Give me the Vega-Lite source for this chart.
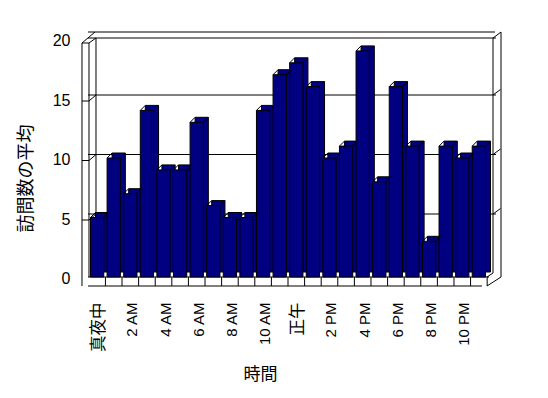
{
  "$schema": "https://vega.github.io/schema/vega-lite/v6.json",
  "autosize": {"type": "none"},
  "padding": {"left": 88, "top": 39, "right": 60, "bottom": 121},
  "width": 400,
  "height": 238,
  "background": "white",
  "config": {
    "view": {"stroke": null},
    "rule": {"color": "black", "strokeWidth": 1},
    "axisX": {"labelAngle": -90, "offset": 9, "domain": false, "ticks": false, "grid": false,
      "labelPadding": 16, "labelOffset": 2, "labelColor": "black", "labelOverlap": false, "labelBound": false,
      "titleFont": "Noto Sans CJK JP", "titleFontSize": 17, "titleFontWeight": "normal",
      "titleColor": "black", "titleX": 172, "titleY": 80, "titleBaseline": "top"},
    "axisY": {"offset": 6, "domain": false, "ticks": false, "grid": false,
      "labelPadding": 12, "labelOffset": 1.5, "labelFontSize": 16, "labelFont": "Liberation Sans",
      "labelColor": "black",
      "titleFont": "Noto Sans CJK JP", "titleFontSize": 18, "titleFontWeight": "normal",
      "titleColor": "black", "titlePadding": 17, "titleY": 139}
  },
  "datasets": {
    "bars": [
      {"hour": "真夜中", "visits": 5}, {"hour": "1 AM", "visits": 10}, {"hour": "2 AM", "visits": 7},
      {"hour": "3 AM", "visits": 14}, {"hour": "4 AM", "visits": 9}, {"hour": "5 AM", "visits": 9},
      {"hour": "6 AM", "visits": 13}, {"hour": "7 AM", "visits": 6}, {"hour": "8 AM", "visits": 5},
      {"hour": "9 AM", "visits": 5}, {"hour": "10 AM", "visits": 14}, {"hour": "11 AM", "visits": 17},
      {"hour": "正午", "visits": 18}, {"hour": "1 PM", "visits": 16}, {"hour": "2 PM", "visits": 10},
      {"hour": "3 PM", "visits": 11}, {"hour": "4 PM", "visits": 19}, {"hour": "5 PM", "visits": 8},
      {"hour": "6 PM", "visits": 16}, {"hour": "7 PM", "visits": 11}, {"hour": "8 PM", "visits": 3},
      {"hour": "9 PM", "visits": 11}, {"hour": "10 PM", "visits": 10}, {"hour": "11 PM", "visits": 11}
    ],
    "grid": [
      {"g": 5, "left": "真夜中", "right": "11 PM"},
      {"g": 10, "left": "真夜中", "right": "11 PM"},
      {"g": 15, "left": "真夜中", "right": "11 PM"}
    ],
    "edge": [{"left": "真夜中", "right": "11 PM"}]
  },
  "layer": [
    {
      "data": {"name": "bars"},
      "mark": {"type": "bar", "color": "#000080", "stroke": "black", "strokeWidth": 1, "opacity": 0},
      "encoding": {
        "x": {
          "field": "hour", "type": "nominal",
          "scale": {
            "domain": ["真夜中", "1 AM", "2 AM", "3 AM", "4 AM", "5 AM", "6 AM", "7 AM", "8 AM", "9 AM", "10 AM", "11 AM", "正午", "1 PM", "2 PM", "3 PM", "4 PM", "5 PM", "6 PM", "7 PM", "8 PM", "9 PM", "10 PM", "11 PM"],
            "paddingInner": 0.2, "paddingOuter": 0.15
          },
          "axis": {
            "values": ["真夜中", "2 AM", "4 AM", "6 AM", "8 AM", "10 AM", "正午", "2 PM", "4 PM", "6 PM", "8 PM", "10 PM"],
            "labelFontSize": {"condition": {"test": "datum.value === '真夜中' || datum.value === '正午'", "value": 16.5}, "value": 15},
            "labelFont": {"condition": {"test": "datum.value === '真夜中' || datum.value === '正午'", "value": "Noto Sans CJK JP"}, "value": "Liberation Sans"},
            "title": "時間"
          }
        },
        "y": {
          "field": "visits", "type": "quantitative",
          "scale": {"domain": [0, 20], "nice": false},
          "axis": {"values": [0, 5, 10, 15, 20], "title": "訪問数の平均"}
        }
      }
    },
    {
      "data": {"name": "grid"},
      "mark": {"type": "rule", "xOffset": 8, "x2Offset": 5, "yOffset": -3.5},
      "encoding": {"y": {"field": "g", "type": "quantitative"}}
    },
    {
      "data": {"name": "edge"},
      "mark": {"type": "rule", "xOffset": 8, "x2Offset": 5, "yOffset": -1},
      "encoding": {"y": {"datum": 20, "type": "quantitative"}}
    },
    {
      "data": {"name": "edge"},
      "mark": {"type": "rule", "xOffset": 7, "x2Offset": 13, "yOffset": -7},
      "encoding": {"y": {"datum": 20, "type": "quantitative"}}
    },
    {
      "data": {"name": "edge"},
      "mark": {"type": "rule", "xOffset": 7.5, "yOffset": -1, "y2Offset": -4},
      "encoding": {
        "x": {"field": "right", "type": "nominal", "bandPosition": 1},
        "y": {"datum": 20, "type": "quantitative"},
        "y2": {"datum": 0}
      }
    },
    {
      "data": {"name": "edge"},
      "mark": {"type": "rule", "xOffset": 15.5, "yOffset": -7, "y2Offset": 0},
      "encoding": {
        "x": {"field": "right", "type": "nominal", "bandPosition": 1},
        "y": {"datum": 20, "type": "quantitative"},
        "y2": {"datum": 0}
      }
    },
    {
      "data": {"name": "edge"},
      "mark": {"type": "rule", "xOffset": 7.5, "x2Offset": 15.5, "yOffset": -1, "y2Offset": -7},
      "encoding": {
        "x": {"field": "right", "type": "nominal", "bandPosition": 1},
        "x2": {"field": "right", "bandPosition": 1},
        "y": {"datum": 20, "type": "quantitative"},
        "y2": {"datum": 20}
      }
    },
    {
      "data": {"name": "grid"},
      "mark": {"type": "rule", "xOffset": 7.5, "x2Offset": 15, "yOffset": -3.5, "y2Offset": -9},
      "encoding": {
        "x": {"field": "right", "type": "nominal", "bandPosition": 1},
        "x2": {"field": "right", "bandPosition": 1},
        "y": {"field": "g", "type": "quantitative"},
        "y2": {"field": "g"}
      }
    },
    {
      "data": {"name": "edge"},
      "mark": {"type": "rule", "xOffset": 1.5, "x2Offset": 15.5, "yOffset": 9, "y2Offset": 0},
      "encoding": {
        "x": {"field": "right", "type": "nominal", "bandPosition": 1},
        "x2": {"field": "right", "bandPosition": 1},
        "y": {"datum": 0, "type": "quantitative"},
        "y2": {"datum": 0}
      }
    },
    {
      "data": {"name": "edge"},
      "mark": {"type": "rule", "xOffset": 1.5, "x2Offset": 7.5, "yOffset": 0, "y2Offset": -4},
      "encoding": {
        "x": {"field": "right", "type": "nominal", "bandPosition": 1},
        "x2": {"field": "right", "bandPosition": 1},
        "y": {"datum": 0, "type": "quantitative"},
        "y2": {"datum": 0}
      }
    },
    {
      "data": {"name": "edge"},
      "mark": {"type": "rule", "xOffset": -8.5, "yOffset": 4, "y2Offset": 9},
      "encoding": {
        "x": {"field": "left", "type": "nominal", "bandPosition": 0},
        "y": {"datum": 20, "type": "quantitative"},
        "y2": {"datum": 0}
      }
    },
    {
      "data": {"name": "edge"},
      "mark": {"type": "rule", "xOffset": -1.5, "yOffset": 4, "y2Offset": 0},
      "encoding": {
        "x": {"field": "left", "type": "nominal", "bandPosition": 0},
        "y": {"datum": 20, "type": "quantitative"},
        "y2": {"datum": 0}
      }
    },
    {
      "data": {"name": "edge"},
      "mark": {"type": "rule", "xOffset": 5.5, "yOffset": -1, "y2Offset": -4},
      "encoding": {
        "x": {"field": "left", "type": "nominal", "bandPosition": 0},
        "y": {"datum": 20, "type": "quantitative"},
        "y2": {"datum": 0}
      }
    },
    {
      "data": {"name": "edge"},
      "mark": {"type": "rule", "xOffset": -8.5, "x2Offset": -1.5, "yOffset": 4, "y2Offset": 4},
      "encoding": {
        "x": {"field": "left", "type": "nominal", "bandPosition": 0},
        "x2": {"field": "left", "bandPosition": 0},
        "y": {"datum": 20, "type": "quantitative"},
        "y2": {"datum": 20}
      }
    },
    {
      "data": {"name": "edge"},
      "mark": {"type": "rule", "xOffset": -8.5, "x2Offset": 4.5, "yOffset": 4, "y2Offset": -7},
      "encoding": {
        "x": {"field": "left", "type": "nominal", "bandPosition": 0},
        "x2": {"field": "left", "bandPosition": 0},
        "y": {"datum": 20, "type": "quantitative"},
        "y2": {"datum": 20}
      }
    },
    {
      "data": {"name": "edge"},
      "mark": {"type": "rule", "xOffset": -1.5, "x2Offset": 5.5, "yOffset": 4, "y2Offset": -1},
      "encoding": {
        "x": {"field": "left", "type": "nominal", "bandPosition": 0},
        "x2": {"field": "left", "bandPosition": 0},
        "y": {"datum": 20, "type": "quantitative"},
        "y2": {"datum": 20}
      }
    },
    {
      "data": {"name": "grid"},
      "mark": {"type": "rule", "xOffset": -8.5, "x2Offset": -1.5, "yOffset": 2.5, "y2Offset": 2.5},
      "encoding": {
        "x": {"field": "left", "type": "nominal", "bandPosition": 0},
        "x2": {"field": "left", "bandPosition": 0},
        "y": {"field": "g", "type": "quantitative"},
        "y2": {"field": "g"}
      }
    },
    {
      "data": {"name": "grid"},
      "mark": {"type": "rule", "xOffset": -1.5, "x2Offset": 5.5, "yOffset": 2.5, "y2Offset": -3.5},
      "encoding": {
        "x": {"field": "left", "type": "nominal", "bandPosition": 0},
        "x2": {"field": "left", "bandPosition": 0},
        "y": {"field": "g", "type": "quantitative"},
        "y2": {"field": "g"}
      }
    },
    {
      "data": {"name": "edge"},
      "mark": {"type": "rule", "xOffset": -6, "x2Offset": -1, "yOffset": 9},
      "encoding": {"y": {"datum": 0, "type": "quantitative"}}
    },
    {
      "data": {"name": "edge"},
      "mark": {"type": "rule", "xOffset": 1, "x2Offset": -1, "yOffset": 0},
      "encoding": {"y": {"datum": 0, "type": "quantitative"}}
    },
    {
      "data": {"name": "bars"},
      "mark": {"type": "rule", "xOffset": 1.66, "y2Offset": 9},
      "encoding": {
        "x": {"field": "hour", "type": "nominal", "bandPosition": 1},
        "y": {"datum": 0, "type": "quantitative"},
        "y2": {"datum": 0}
      }
    },
    {
      "data": {"name": "bars"},
      "mark": {"type": "bar", "color": "#000080", "stroke": "black", "strokeWidth": 1, "xOffset": 5, "yOffset": -5, "y2Offset": 0},
      "encoding": {
        "x": {"field": "hour", "type": "nominal"},
        "y": {"field": "visits", "type": "quantitative"}
      }
    },
    {
      "data": {"name": "bars"},
      "mark": {"type": "bar", "color": "#000080", "stroke": "black", "strokeWidth": 1},
      "encoding": {
        "x": {"field": "hour", "type": "nominal"},
        "y": {"field": "visits", "type": "quantitative"}
      }
    },
    {
      "data": {"name": "bars"},
      "mark": {"type": "rule", "x2Offset": 5, "y2Offset": -5},
      "encoding": {
        "x": {"field": "hour", "type": "nominal", "bandPosition": 0},
        "x2": {"field": "hour", "bandPosition": 0},
        "y": {"field": "visits", "type": "quantitative"},
        "y2": {"field": "visits"}
      }
    },
    {
      "data": {"name": "bars"},
      "mark": {"type": "rule", "x2Offset": 5, "y2Offset": -5},
      "encoding": {
        "x": {"field": "hour", "type": "nominal", "bandPosition": 1},
        "x2": {"field": "hour", "bandPosition": 1},
        "y": {"field": "visits", "type": "quantitative"},
        "y2": {"field": "visits"}
      }
    }
  ]
}
